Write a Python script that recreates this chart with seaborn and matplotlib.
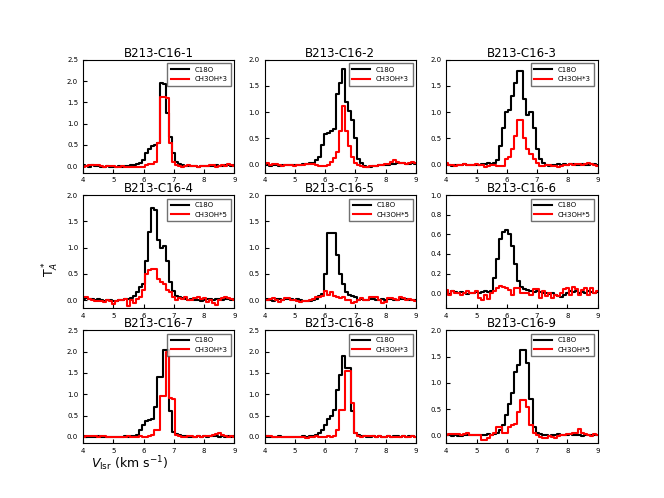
import numpy as np
import pandas as pd
import matplotlib
matplotlib.use("Agg")
import matplotlib.pyplot as plt
import seaborn as sns

plt.rcParams["xtick.direction"] = "in"
plt.rcParams["ytick.direction"] = "in"

# channel velocities (km/s), 0.1 km/s channels
vel = np.linspace(4.0, 9.0, 51)

titles = ["B213-C16-%d" % i for i in range(1, 10)]
ch3oh_labels = ["CH3OH*3", "CH3OH*3", "CH3OH*3",
                "CH3OH*5", "CH3OH*5", "CH3OH*5",
                "CH3OH*3", "CH3OH*3", "CH3OH*5"]
ytop = [2.5, 2.0, 2.0, 2.0, 2.0, 1.0, 2.5, 2.5, 2.0]

c18o_1 = [0.02, 0.00, -0.01, 0.02, 0.01, 0.00, -0.01, -0.01, 0.00, -0.02,
          -0.01, -0.01, 0.00, -0.01, 0.00, 0.01, 0.02, 0.02, 0.05, 0.08,
          0.15, 0.30, 0.40, 0.47, 0.50, 0.55, 1.95, 1.92, 1.25, 0.68,
          0.30, 0.10, 0.05, 0.03, 0.01, 0.00, 0.01, 0.00, -0.01, 0.00,
          0.00, 0.01, 0.00, 0.00, 0.02, 0.01, 0.00, 0.02, 0.03, 0.00,
          0.02]
ch3oh_1 = [-0.02, 0.00, 0.03, 0.03, 0.02, 0.03, 0.00, -0.01, 0.00, 0.01,
           0.00, -0.02, -0.01, 0.00, -0.02, -0.01, -0.02, -0.03, -0.02, -0.01,
           -0.02, 0.02, 0.04, 0.05, 0.10, 0.55, 1.62, 1.63, 1.60, 0.55,
           0.10, 0.03, 0.00, -0.02, 0.00, 0.02, 0.00, 0.01, -0.02, 0.00,
           0.01, 0.00, 0.02, 0.03, -0.01, 0.01, 0.02, 0.00, 0.05, 0.03,
           0.00]

c18o_2 = [0.02, 0.01, -0.02, 0.00, -0.01, -0.02, -0.01, -0.01, 0.00, -0.01,
          0.00, -0.01, 0.00, 0.01, 0.02, 0.03, 0.03, 0.08, 0.15, 0.38,
          0.58, 0.60, 0.65, 0.68, 1.35, 1.55, 1.82, 1.20, 1.02, 0.85,
          0.50, 0.10, 0.03, -0.03, -0.05, -0.05, -0.03, -0.02, -0.01, 0.00,
          0.00, -0.01, 0.01, 0.02, 0.03, 0.03, 0.03, 0.02, 0.02, 0.03,
          0.02]
ch3oh_2 = [0.01, 0.03, -0.01, 0.02, 0.01, -0.01, -0.02, -0.01, 0.00, -0.01,
           -0.02, -0.01, 0.00, 0.00, 0.01, 0.02, 0.01, 0.00, -0.02, -0.03,
           -0.02, 0.00, 0.05, 0.12, 0.25, 0.65, 1.12, 0.65, 0.35, 0.15,
           0.03, 0.00, -0.03, -0.05, -0.05, -0.03, -0.03, -0.02, -0.01, 0.00,
           0.01, 0.01, 0.05, 0.08, 0.05, 0.03, 0.04, 0.02, 0.03, 0.05,
           0.03]

c18o_3 = [0.01, -0.01, -0.02, -0.01, 0.00, 0.00, 0.01, 0.00, -0.01, 0.00,
          0.00, -0.01, 0.01, 0.02, 0.03, 0.01, 0.03, 0.08, 0.35, 0.70,
          1.00, 1.05, 1.30, 1.55, 1.78, 1.78, 1.25, 0.95, 1.00, 0.70,
          0.30, 0.10, 0.03, 0.00, -0.02, -0.01, 0.00, 0.01, 0.00, 0.02,
          0.00, 0.01, 0.01, -0.01, 0.00, 0.01, 0.00, 0.00, 0.02, 0.01,
          0.00]
ch3oh_3 = [0.03, 0.00, 0.00, -0.02, 0.00, 0.00, 0.01, 0.00, 0.00, 0.00,
           0.01, 0.00, -0.01, -0.04, -0.03, 0.00, 0.00, -0.02, -0.03, -0.02,
           0.10, 0.15, 0.30, 0.55, 0.86, 0.86, 0.50, 0.30, 0.20, 0.10,
           0.04, -0.02, -0.02, 0.00, 0.00, -0.02, -0.02, -0.05, -0.03, 0.00,
           0.00, 0.02, 0.00, 0.01, 0.02, 0.00, 0.02, 0.03, 0.01, -0.01,
           -0.02]

c18o_4 = [0.02, 0.03, 0.02, 0.01, 0.00, 0.01, 0.00, -0.01, 0.00, 0.00,
          -0.01, -0.02, 0.00, 0.00, 0.01, 0.01, 0.04, 0.07, 0.15, 0.25,
          0.30, 0.75, 1.30, 1.75, 1.72, 1.15, 1.00, 1.03, 0.75, 0.35,
          0.18, 0.08, 0.05, 0.03, 0.02, 0.00, 0.01, 0.00, 0.00, -0.01,
          0.00, 0.01, 0.02, 0.00, 0.01, 0.02, 0.00, 0.01, 0.02, 0.00,
          0.01]
ch3oh_4 = [0.05, 0.05, 0.02, 0.00, -0.02, -0.02, -0.01, -0.03, 0.00, -0.01,
           -0.07, -0.02, 0.00, 0.00, 0.01, -0.12, 0.00, -0.05, 0.02, 0.05,
           0.20, 0.50, 0.58, 0.60, 0.60, 0.40, 0.35, 0.30, 0.20, 0.15,
           0.05, 0.00, 0.03, 0.02, 0.05, 0.00, 0.00, 0.03, 0.05, 0.02,
           0.03, -0.03, 0.00, -0.05, -0.10, 0.00, 0.03, 0.05, 0.03, 0.02,
           0.00]

c18o_5 = [0.00, 0.01, 0.00, -0.01, 0.01, 0.02, 0.00, 0.01, 0.02, 0.01,
          0.00, 0.01, 0.00, -0.01, -0.01, -0.02, 0.00, 0.02, 0.08, 0.12,
          0.50, 1.28, 1.28, 1.28, 0.85, 0.50, 0.30, 0.15, 0.10, 0.07,
          0.05, 0.00, 0.01, 0.00, 0.00, 0.01, 0.02, 0.00, 0.00, 0.01,
          0.00, 0.01, 0.02, 0.00, 0.00, 0.01, 0.01, 0.02, 0.00, 0.00,
          0.00]
ch3oh_5 = [0.00, 0.00, 0.02, 0.03, 0.00, -0.03, 0.00, 0.03, 0.03, 0.00,
           0.00, -0.02, -0.03, -0.02, -0.01, 0.00, 0.02, 0.05, 0.05, 0.08,
           0.18, 0.10, 0.15, 0.08, 0.05, 0.03, 0.05, 0.00, 0.00, -0.05,
           -0.03, 0.00, 0.03, 0.00, 0.00, 0.05, 0.05, 0.05, 0.00, -0.05,
           -0.03, 0.03, 0.03, 0.02, 0.00, 0.05, 0.04, 0.00, 0.02, 0.00,
           -0.02]

c18o_6 = [0.02, -0.01, 0.02, 0.01, 0.00, 0.01, 0.00, -0.01, 0.00, 0.00,
          0.01, 0.00, 0.01, 0.02, 0.01, 0.02, 0.15, 0.35, 0.55, 0.62,
          0.64, 0.60, 0.48, 0.30, 0.12, 0.06, 0.04, 0.03, 0.02, 0.01,
          0.02, 0.01, 0.00, 0.00, -0.01, 0.00, -0.02, -0.03, -0.04, -0.02,
          0.00, 0.02, 0.01, 0.02, 0.00, 0.01, 0.00, 0.02, 0.01, 0.00,
          0.01]
ch3oh_6 = [0.03, -0.02, 0.02, 0.00, 0.00, -0.02, 0.00, 0.02, 0.00, 0.00,
           0.02, -0.05, -0.07, -0.02, -0.06, 0.00, 0.02, 0.05, 0.07, 0.06,
           0.05, 0.03, -0.02, 0.05, 0.05, 0.00, 0.00, 0.00, -0.02, 0.04,
           0.04, -0.05, 0.02, -0.03, 0.00, -0.05, -0.02, -0.03, 0.00, 0.04,
           0.05, -0.02, 0.06, 0.04, -0.02, 0.03, 0.05, -0.02, 0.05, 0.00,
           0.02]

c18o_7 = [0.02, 0.00, -0.01, 0.00, 0.00, 0.01, 0.00, -0.01, 0.00, -0.01,
          0.00, -0.01, 0.00, 0.00, 0.01, 0.00, 0.02, 0.03, 0.05, 0.15,
          0.28, 0.37, 0.40, 0.42, 0.70, 1.40, 1.40, 2.05, 2.05, 0.60,
          0.12, 0.06, 0.04, 0.02, 0.01, 0.00, -0.01, 0.00, 0.01, 0.00,
          0.01, 0.00, 0.02, 0.01, 0.02, 0.00, 0.01, 0.00, 0.02, 0.00,
          0.01]
ch3oh_7 = [-0.01, 0.02, 0.03, 0.02, 0.01, 0.00, 0.02, 0.01, 0.00, 0.00,
           0.00, 0.00, -0.01, 0.00, 0.00, 0.01, 0.00, 0.00, 0.00, 0.01,
           0.00, 0.00, 0.02, 0.05, 0.15, 0.15, 0.95, 0.97, 2.00, 0.92,
           0.90, 0.05, 0.02, 0.00, 0.00, 0.01, 0.02, 0.00, 0.01, 0.00,
           0.02, 0.03, 0.03, 0.05, 0.07, 0.08, 0.05, 0.02, 0.00, 0.01,
           0.00]

c18o_8 = [0.01, 0.02, 0.00, -0.01, 0.00, 0.01, 0.00, -0.01, 0.00, 0.00,
          -0.01, 0.00, 0.00, 0.01, 0.00, 0.01, 0.03, 0.05, 0.08, 0.15,
          0.28, 0.42, 0.50, 0.62, 1.10, 1.45, 1.90, 1.62, 1.62, 0.60,
          0.10, 0.04, 0.02, 0.01, 0.00, 0.00, 0.01, 0.00, 0.01, 0.00,
          0.00, 0.01, 0.00, 0.02, 0.01, 0.00, 0.01, 0.00, 0.02, 0.01,
          0.00]
ch3oh_8 = [0.01, 0.02, 0.02, 0.00, -0.01, 0.00, -0.01, 0.00, -0.01, 0.00,
           -0.01, 0.00, 0.00, -0.01, -0.02, -0.01, 0.00, 0.01, 0.00, 0.00,
           0.00, 0.01, 0.00, 0.02, 0.15, 0.62, 0.62, 1.55, 1.55, 0.80,
           0.10, 0.02, 0.00, 0.02, 0.03, 0.03, 0.01, 0.00, 0.01, 0.00,
           0.00, 0.01, 0.00, -0.01, 0.00, 0.00, 0.01, 0.00, 0.00, 0.01,
           0.00]

c18o_9 = [0.01, 0.00, -0.02, 0.00, -0.01, -0.01, 0.00, 0.00, 0.01, 0.00,
          0.01, 0.00, 0.01, 0.00, 0.02, 0.00, 0.02, 0.05, 0.10, 0.20,
          0.38, 0.60, 0.80, 1.20, 1.35, 1.62, 1.62, 1.38, 0.70, 0.15,
          0.05, 0.02, 0.01, 0.00, -0.01, 0.00, 0.01, 0.02, 0.00, 0.01,
          0.00, 0.02, 0.01, 0.00, 0.01, -0.01, 0.00, 0.01, 0.00, 0.01,
          0.00]
ch3oh_9 = [0.00, 0.03, 0.02, 0.03, 0.03, 0.00, 0.03, 0.04, 0.00, 0.01,
           0.00, 0.00, -0.08, -0.08, -0.05, 0.00, 0.05, 0.15, 0.15, 0.05,
           0.05, 0.15, 0.20, 0.22, 0.45, 0.68, 0.68, 0.55, 0.20, 0.05,
           0.00, -0.03, -0.05, -0.05, -0.02, -0.03, -0.05, -0.02, 0.00, 0.00,
           0.02, 0.03, 0.05, 0.04, 0.12, 0.05, 0.02, 0.00, -0.02, 0.03,
           0.00]

c18o_all = [c18o_1, c18o_2, c18o_3, c18o_4, c18o_5, c18o_6, c18o_7, c18o_8, c18o_9]
ch3oh_all = [ch3oh_1, ch3oh_2, ch3oh_3, ch3oh_4, ch3oh_5, ch3oh_6, ch3oh_7, ch3oh_8, ch3oh_9]

fig, axes = plt.subplots(3, 3, figsize=(6.64, 4.98), dpi=100)

for i, ax in enumerate(axes.flat):
    df = pd.DataFrame({"v": vel, "c18o": c18o_all[i], "ch3oh": ch3oh_all[i]})
    sns.lineplot(data=df, x="v", y="c18o", ax=ax, color="black", lw=1.5,
                 drawstyle="steps-mid", label="C18O")
    sns.lineplot(data=df, x="v", y="ch3oh", ax=ax, color="red", lw=1.5,
                 drawstyle="steps-mid", label=ch3oh_labels[i])
    ax.set_xlim(4, 9)
    ax.set_ylim(-0.15, ytop[i])
    ax.set_xticks([4, 5, 6, 7, 8, 9])
    ax.tick_params(labelsize=5, length=3)
    ax.set_xlabel("")
    ax.set_ylabel("")
    ax.set_title(titles[i], fontsize=8.5, pad=0)
    ax.legend(loc="upper right", fontsize=5, fancybox=False, edgecolor="0.3",
              handlelength=2.6, borderpad=0.5)

fig.text(0.195, 0.068, r"$V_{\rm lsr}$ (km s$^{-1}$)", ha="center", va="center", fontsize=9)
fig.text(0.077, 0.46, r"T$_A^*$", ha="center", va="center", rotation=90, fontsize=9)

plt.savefig("out.png", dpi=100)
